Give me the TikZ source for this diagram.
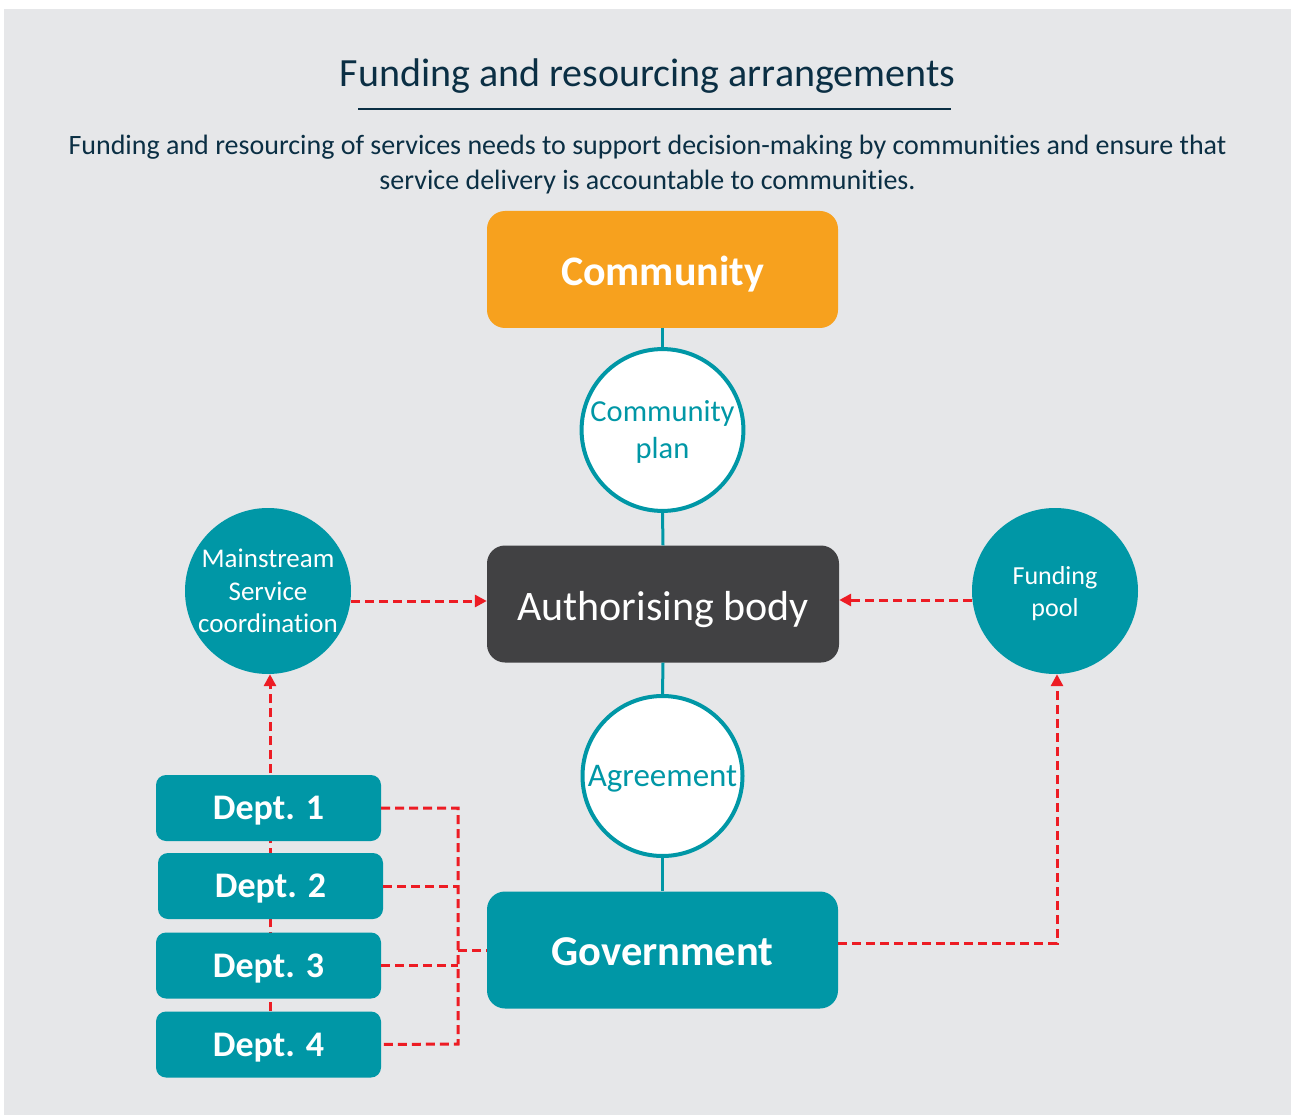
\documentclass[tikz,border=0pt]{standalone}
\usepackage{fontspec}
\setmainfont{Carlito}[Ligatures=NoCommon]
\usetikzlibrary{arrows.meta,calc}
\definecolor{bgc}{HTML}{E6E7E9}
\definecolor{teal1}{HTML}{0097A6}
\definecolor{orange1}{HTML}{F7A11E}
\definecolor{dark1}{HTML}{414143}
\definecolor{red1}{HTML}{ED1C24}
\definecolor{navy1}{HTML}{0B2F44}
\pgfdeclarelayer{backdrop}
\pgfdeclarelayer{lines}
\pgfsetlayers{backdrop,lines,main}
\newcommand{\lowtext}[2]{\raisebox{-#1}[\height][\depth]{#2}}
\newcommand{\lowstack}[2]{\raisebox{-#1}[\height][\depth]{\begin{tabular}{@{}c@{}}#2\end{tabular}}}
\tikzset{
  bigbox/.style={rectangle, rounded corners=18pt, minimum width=351pt, minimum height=117pt, inner sep=0pt, text=white},
  deptbox/.style={rectangle, rounded corners=10pt, fill=teal1, minimum width=225pt, minimum height=66pt, inner sep=0pt, text=white, font=\fontsize{36}{40}\selectfont\bfseries},
  ringcirc/.style={circle, draw=teal1, line width=4pt, fill=white, minimum size=160pt, inner sep=0pt, text=teal1, align=center},
  fillcirc/.style={circle, fill=teal1, minimum size=166pt, inner sep=0pt, text=white, align=center},
  tealline/.style={draw=teal1, line width=3pt},
  reddash/.style={draw=red1, line width=3pt, dash pattern=on 9pt off 5pt},
  redarrow/.style={reddash, -{Triangle[length=12pt,width=12pt]}}
}
\begin{document}
\begin{tikzpicture}[x=1pt,y=-1pt]
\useasboundingbox (0,0) rectangle (1291,1115);
\begin{pgfonlayer}{backdrop}
\fill[bgc] (4,9) rectangle (1291,1115);
\end{pgfonlayer}
% title
\node[text=navy1, font=\fontsize{40}{46}\selectfont] (title) at (647.5,76) {Funding and resourcing arrangements};
\coordinate (ulA) at (358,109);
\coordinate (ulB) at (951,109);
\draw[navy1, line width=1.8pt] (ulA) -- (ulB);
\node[text=navy1, align=center, font=\fontsize{28}{35}\selectfont] (sub) at (647.5,165) {Funding and resourcing of services needs to support decision-making by communities and ensure that\\service delivery is accountable to communities.};
% main column
\node[bigbox, fill=orange1, font=\fontsize{42}{48}\selectfont\bfseries] (comm) at (662.5,269.5) {\lowtext{5pt}{Community}};
\node[ringcirc, font=\fontsize{30.5}{37}\selectfont] (plan) at (662.5,430) {\lowstack{3pt}{Community\\plan}};
\node[bigbox, fill=dark1, minimum width=352pt, font=\fontsize{42}{48}\selectfont] (auth) at (663,604) {\lowtext{6pt}{Authorising body}};
\node[ringcirc, font=\fontsize{33}{36}\selectfont] (agree) at (662.5,776) {\lowtext{3pt}{Agreement}};
\node[bigbox, fill=teal1, font=\fontsize{42.5}{48}\selectfont\bfseries] (gov) at (662.5,950) {\lowtext{2pt}{Government}};
% side circles
\node[fillcirc, font=\fontsize{27}{32.5}\selectfont] (main) at (268,591) {Mainstream\\Service\\coordination};
\node[fillcirc, font=\fontsize{26}{32}\selectfont] (pool) at (1055,591) {\lowstack{3pt}{Funding\\pool}};
% departments
\node[deptbox] (d1) at (268.5,808) {\lowtext{3pt}{Dept. 1}};
\node[deptbox] (d2) at (270.5,886) {\lowtext{3pt}{Dept. 2}};
\node[deptbox] (d3) at (268.5,965.5) {\lowtext{3pt}{Dept. 3}};
\node[deptbox] (d4) at (268.5,1044.5) {\lowtext{3pt}{Dept. 4}};
% teal spine
\draw[tealline] (comm.south) -- (plan.north);
\draw[tealline] (plan.south) -- (auth.north);
\draw[tealline] (auth.south) -- (agree.north);
\draw[tealline] (agree.south) -- (gov.north);
% red dashed connectors
\draw[redarrow] ([yshift=-10pt]main.east) -- ([yshift=-10pt]main.east -| auth.west);
\draw[redarrow] ([yshift=-9pt]pool.west) -- ([yshift=-9pt]pool.west -| auth.east);
\begin{pgfonlayer}{lines}
\draw[redarrow] ([xshift=1.5pt]d4.north) -- ([xshift=2pt]main.south);
\end{pgfonlayer}
\coordinate (busT) at (458,808);
\coordinate (busB) at (458,1044);
\coordinate (busM) at (458,950);
\draw[reddash] (d1.east) -- (busT) -- (busB) -- (d4.east);
\draw[reddash] (d2.east) -- (d2.east -| busT);
\draw[reddash] (d3.east) -- (d3.east -| busT);
\draw[reddash] (busM) -- (gov.west);
\draw[redarrow] ([yshift=7pt]gov.east) -| ([xshift=2pt]pool.south);
\end{tikzpicture}
\end{document}
